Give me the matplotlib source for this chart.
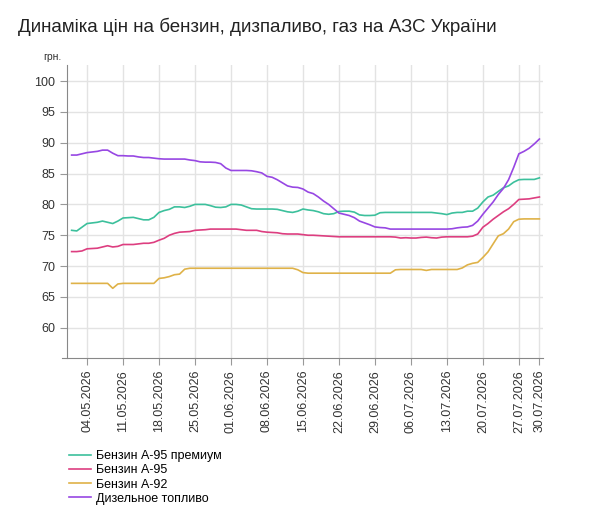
import matplotlib.pyplot as plt
import numpy as np

plt.rcParams['font.family'] = ['Liberation Sans', 'DejaVu Sans']

# Ціни, грн/л, щоденно з 01.05.2026
a95_premium = [75.8, 75.7, 76.3, 76.9, 77.0, 77.1, 77.3, 77.1, 76.9, 77.3,
               77.8, 77.85, 77.9, 77.7, 77.5, 77.5, 77.9, 78.7, 79.0, 79.2,
               79.6, 79.6, 79.5, 79.7, 80.0, 80.0, 80.0, 79.8, 79.55, 79.5,
               79.6, 80.0, 80.0, 79.9, 79.6, 79.3, 79.25, 79.25, 79.25, 79.25,
               79.2, 79.0, 78.8, 78.7, 78.9, 79.25, 79.1, 79.0, 78.8, 78.5,
               78.4, 78.5, 78.85, 78.9, 78.9, 78.75, 78.3, 78.2, 78.2, 78.25,
               78.65, 78.7, 78.7, 78.7, 78.7, 78.7, 78.7, 78.7, 78.7, 78.7,
               78.7, 78.6, 78.5, 78.35, 78.6, 78.7, 78.7, 78.9, 78.9, 79.4,
               80.4, 81.2, 81.5, 82.1, 82.7, 83.0, 83.6, 84.0, 84.05, 84.05,
               84.05, 84.3]

a95 = [72.35, 72.35, 72.45, 72.8, 72.85, 72.9, 73.1, 73.3, 73.1, 73.2,
       73.5, 73.5, 73.5, 73.6, 73.7, 73.7, 73.85, 74.2, 74.5, 75.0,
       75.3, 75.5, 75.55, 75.6, 75.8, 75.85, 75.9, 76.0, 76.0, 76.0,
       76.0, 76.0, 76.0, 75.9, 75.8, 75.8, 75.8, 75.6, 75.5, 75.45,
       75.4, 75.25, 75.2, 75.2, 75.2, 75.1, 75.0, 75.0, 74.95, 74.9,
       74.85, 74.8, 74.75, 74.75, 74.75, 74.75, 74.75, 74.75, 74.75, 74.75,
       74.75, 74.75, 74.75, 74.7, 74.55, 74.6, 74.55, 74.55, 74.65, 74.7,
       74.6, 74.55, 74.7, 74.75, 74.75, 74.75, 74.75, 74.75, 74.85, 75.2,
       76.3, 76.9, 77.6, 78.2, 78.8, 79.3, 80.0, 80.8, 80.85, 80.9,
       81.05, 81.2]

a92 = [67.2, 67.2, 67.2, 67.2, 67.2, 67.2, 67.2, 67.2, 66.4, 67.1,
       67.2, 67.2, 67.2, 67.2, 67.2, 67.2, 67.2, 68.0, 68.1, 68.3,
       68.6, 68.7, 69.5, 69.65, 69.65, 69.65, 69.65, 69.65, 69.65, 69.65,
       69.65, 69.65, 69.65, 69.65, 69.65, 69.65, 69.65, 69.65, 69.65, 69.65,
       69.65, 69.65, 69.65, 69.65, 69.4, 68.95, 68.85, 68.85, 68.85, 68.85,
       68.85, 68.85, 68.85, 68.85, 68.85, 68.85, 68.85, 68.85, 68.85, 68.85,
       68.85, 68.85, 68.85, 69.4, 69.45, 69.45, 69.45, 69.45, 69.45, 69.3,
       69.45, 69.45, 69.45, 69.45, 69.45, 69.45, 69.7, 70.2, 70.45, 70.6,
       71.4, 72.3, 73.6, 74.9, 75.25, 76.0, 77.2, 77.6, 77.65, 77.65,
       77.65, 77.65]

diesel = [88.0, 88.0, 88.2, 88.4, 88.5, 88.6, 88.8, 88.8, 88.3, 87.9,
          87.9, 87.85, 87.85, 87.7, 87.6, 87.6, 87.5, 87.4, 87.35, 87.35,
          87.35, 87.35, 87.35, 87.2, 87.1, 86.9, 86.85, 86.85, 86.8, 86.6,
          85.9, 85.5, 85.5, 85.5, 85.5, 85.45, 85.3, 85.1, 84.55, 84.4,
          84.0, 83.5, 83.0, 82.8, 82.75, 82.5, 82.0, 81.75, 81.2, 80.55,
          80.0, 79.3, 78.6, 78.4, 78.2, 77.85, 77.3, 77.0, 76.7, 76.35,
          76.25, 76.2, 76.0, 76.0, 76.0, 76.0, 76.0, 76.0, 76.0, 76.0,
          76.0, 76.0, 76.0, 76.0, 76.05, 76.2, 76.3, 76.35, 76.6, 77.3,
          78.4, 79.4, 80.4, 81.6, 82.6, 84.0, 86.0, 88.2, 88.6, 89.1,
          89.8, 90.6]

tick_pos = [3, 10, 17, 24, 31, 38, 45, 52, 59, 66, 73, 80, 87, 91]
tick_labels = ['04.05.2026', '11.05.2026', '18.05.2026', '25.05.2026',
               '01.06.2026', '08.06.2026', '15.06.2026', '22.06.2026',
               '29.06.2026', '06.07.2026', '13.07.2026', '20.07.2026',
               '27.07.2026', '30.07.2026']

names = ['Бензин А-95 премиум', 'Бензин А-95', 'Бензин А-92', 'Дизельное топливо']
colors = ['#3cc09c', '#dd3e80', '#dfb248', '#9747e3']

day = np.arange(len(diesel))

fig = plt.figure(figsize=(6, 5.2), dpi=100)
ax = fig.add_axes([67 / 600, 1 - 358 / 520, 476 / 600, 293 / 520])

for vals, name, c in zip([a95_premium, a95, a92, diesel], names, colors):
    ax.plot(day, vals, color=c, linewidth=1.2, label=name)

ax.set_xlim(-0.9, 91.7)
ax.set_ylim(55.1, 102.6)
ax.set_yticks(range(60, 101, 5))
ax.set_xticks(tick_pos)
ax.set_xticklabels(tick_labels, rotation=90)
ax.tick_params(axis='both', labelsize=9, colors='#999999', labelcolor='#333333', length=5)
ax.grid(color='#e3e3e3', linewidth=1)
ax.set_axisbelow(True)
for s in ['top', 'right']:
    ax.spines[s].set_visible(False)
for s in ['left', 'bottom']:
    ax.spines[s].set_color('#888888')
# ось X трохи виходить ліворуч за вісь Y
ax.spines['bottom'].set_bounds(-1.9, 91.7)
ax.spines['bottom'].set_clip_on(False)

fig.text(18 / 600, 1 - 32 / 520, 'Динаміка цін на бензин, дизпаливо, газ на АЗС України',
         fontsize=13.5, color='#222222', va='baseline')
fig.text(43 / 600, 1 - 60 / 520, 'грн.', fontsize=7.5, color='#333333', va='baseline')

ax.legend(loc='upper left', bbox_to_anchor=(69 / 600, 1 - 450 / 520),
          bbox_transform=fig.transFigure, frameon=False, fontsize=9,
          handlelength=1.75, handletextpad=0.45, labelspacing=0.18,
          borderpad=0, borderaxespad=0)

fig.savefig('out.png', dpi=100)
